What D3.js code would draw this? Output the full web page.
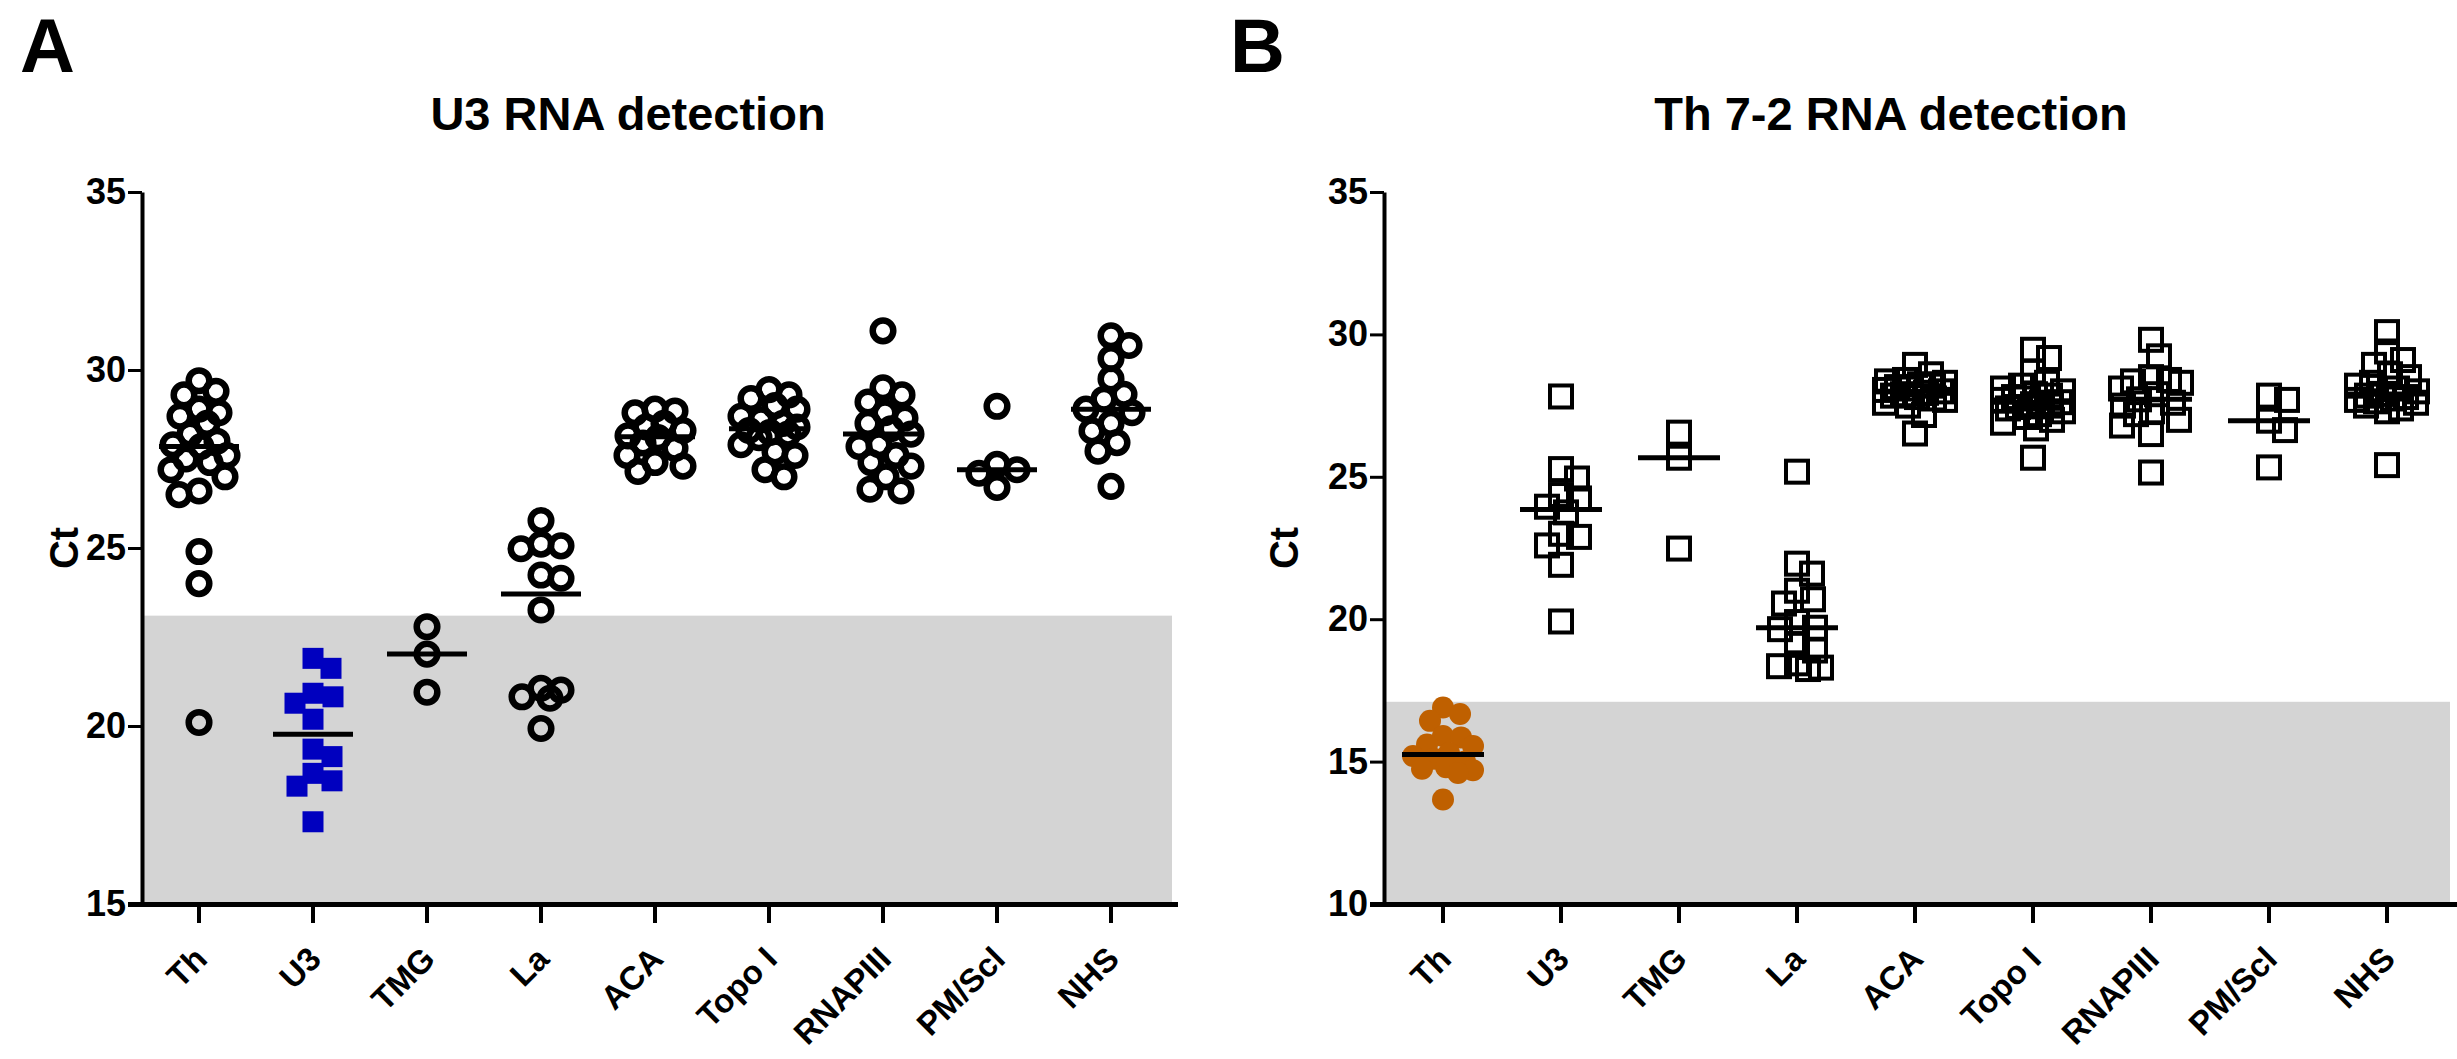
<!DOCTYPE html>
<html>
<head>
<meta charset="utf-8">
<script src="https://cdn.jsdelivr.net/npm/d3@7"></script>
<style>
    body { margin: 0; background: #fff; }
    svg { display: block; }
    text { font-family: Arial, "Liberation Sans", sans-serif; font-weight: bold; fill: #000; }
</style>
</head>
<body>
<svg id="chart" width="2457" height="1059"></svg>
<script>
// ---- data (Ct values) ----
const categories = ["Th", "U3", "TMG", "La", "ACA", "Topo I", "RNAPIII", "PM/Scl", "NHS"];

// A: U3 RNA detection
const u3Ct = [
    [29.7, 29.4, 29.3, 28.9, 28.8, 28.7, 28.5, 28.2, 28.0, 27.9, 27.85, 27.6, 27.5, 27.4, 27.2, 27.0, 26.6, 26.5, 24.9, 24.0, 20.1],
    [21.9, 21.62, 20.92, 20.82, 20.64, 20.19, 19.35, 19.14, 18.67, 18.46, 18.31, 17.31],
    [22.79, 22.02, 20.95],
    [25.77, 25.11, 25.06, 24.98, 24.24, 24.15, 23.26, 21.06, 21.01, 20.82, 20.78, 19.93],
    [28.9, 28.85, 28.8, 28.5, 28.4, 28.3, 28.15, 28.1, 27.95, 27.8, 27.6, 27.4, 27.3, 27.15],
    [29.45, 29.3, 29.2, 29.0, 28.9, 28.7, 28.6, 28.5, 28.4, 28.3, 28.25, 28.2, 28.1, 27.9, 27.7, 27.6, 27.2, 27.0],
    [31.1, 29.5, 29.3, 29.1, 28.8, 28.65, 28.5, 28.35, 28.2, 27.9, 27.85, 27.6, 27.4, 27.3, 27.0, 26.65, 26.6],
    [28.98, 27.35, 27.2, 27.1, 26.7],
    [30.96, 30.69, 30.32, 29.75, 29.32, 29.18, 28.9, 28.8, 28.5, 28.29, 27.96, 27.72, 26.73]
];

// B: Th 7-2 RNA detection
const th72Ct = [
    [16.9, 16.67, 16.43, 15.9, 15.85, 15.6, 15.55, 15.3, 15.2, 15.1, 15.0, 14.8, 14.75, 14.7, 14.6, 13.67],
    [27.82, 25.27, 24.94, 24.36, 24.24, 23.95, 23.75, 23.0, 22.89, 22.59, 21.91, 19.92],
    [26.55, 25.67, 22.48],
    [25.18, 21.95, 21.6, 21.0, 20.7, 20.55, 19.9, 19.7, 19.65, 19.1, 18.9, 18.45, 18.35, 18.3, 18.25],
    [28.93, 28.6, 28.4, 28.35, 28.3, 28.25, 28.2, 28.15, 28.1, 28.05, 28.0, 27.95, 27.9, 27.85, 27.8, 27.75, 27.7, 27.6, 27.5, 27.17, 26.52],
    [29.46, 29.17, 28.7, 28.3, 28.2, 28.1, 28.0, 27.9, 27.85, 27.8, 27.75, 27.7, 27.62, 27.6, 27.55, 27.5, 27.45, 27.4, 27.3, 27.2, 27.1, 27.0, 26.9, 26.7, 25.67],
    [29.81, 29.23, 28.5, 28.4, 28.35, 28.3, 28.1, 27.9, 27.72, 27.6, 27.5, 27.3, 27.2, 27.0, 26.8, 26.5, 25.15],
    [27.85, 27.7, 26.97, 26.64, 25.33],
    [30.08, 29.4, 29.1, 28.93, 28.6, 28.5, 28.3, 28.2, 28.1, 28.0, 27.91, 27.85, 27.8, 27.75, 27.7, 27.65, 27.6, 27.5, 27.4, 27.3, 25.41]
];

const u3Ticks = [15, 20, 25, 30, 35];
const th72Ticks = [10, 15, 20, 25, 30, 35];
const u3Cutoff = 23.1;
const th72Cutoff = 17.1;

const svg = d3.select("#chart");

// simple deterministic beeswarm: keep points near the column centre, push sideways when they collide
function swarm(values, y, minD, maxOff) {
    const placed = [];
    const offs = new Array(values.length);
    const order = values.map((v, i) => i).sort((a, b) => values[b] - values[a]);
    order.forEach(i => {
        const py = y(values[i]);
        let best = 0, bestScore = -1;
        for (let k = 0; k <= 2 * maxOff; k++) {
            const dx = (k % 2 ? 1 : -1) * Math.ceil(k / 2);
            let dmin = Infinity;
            placed.forEach(p => { dmin = Math.min(dmin, Math.hypot(p.x - dx, p.y - py)); });
            if (dmin >= minD) { best = dx; bestScore = Infinity; break; }
            if (dmin > bestScore) { bestScore = dmin; best = dx; }
        }
        offs[i] = best;
        placed.push({ x: best, y: py });
    });
    return offs;
}

function drawPanel(cfg) {
    const x = d3.scaleBand().domain(categories).range([cfg.left, cfg.right]);
    const y = d3.scaleLinear()
        .domain([cfg.ticks[0], cfg.ticks[cfg.ticks.length - 1]])
        .range([cfg.bottom, cfg.top]);

    const g = svg.append("g");

    // shaded detection-limit band
    g.append("rect")
        .attr("x", cfg.left)
        .attr("y", y(cfg.cutoff))
        .attr("width", cfg.right + 4 - cfg.left)
        .attr("height", y(cfg.ticks[0]) - y(cfg.cutoff))
        .attr("fill", "#d4d4d4");

    // points
    cfg.data.forEach((vals, gi) => {
        const cx = x(categories[gi]) + x.bandwidth() / 2;
        const style = cfg.marker(gi);
        const offs = swarm(vals, y, cfg.minD, cfg.maxOff);
        const pts = g.append("g").selectAll(".pt").data(vals).enter();

        if (style.shape === "circle") {
            pts.append("circle")
                .attr("cx", (d, i) => cx + offs[i])
                .attr("cy", d => y(d))
                .attr("r", style.size / 2)
                .attr("fill", style.fill)
                .attr("stroke", style.stroke)
                .attr("stroke-width", style.sw);
        } else {
            pts.append("rect")
                .attr("x", (d, i) => cx + offs[i] - style.size / 2)
                .attr("y", d => y(d) - style.size / 2)
                .attr("width", style.size)
                .attr("height", style.size)
                .attr("fill", style.fill)
                .attr("stroke", style.stroke)
                .attr("stroke-width", style.sw);
        }

        // median line
        const med = d3.median(vals);
        g.append("line")
            .attr("x1", cx - cfg.lineHalf)
            .attr("x2", cx + cfg.lineHalf)
            .attr("y1", y(med))
            .attr("y2", y(med))
            .attr("stroke", "#000")
            .attr("stroke-width", 5);
    });

    // y axis
    const yAxis = g.append("g")
        .attr("transform", `translate(${cfg.left},0)`)
        .call(d3.axisLeft(y).tickValues(cfg.ticks).tickSize(14).tickPadding(2).tickSizeOuter(0));
    yAxis.select(".domain").attr("stroke-width", 4);
    yAxis.selectAll(".tick line").attr("stroke-width", 3);
    yAxis.selectAll(".tick text")
        .attr("font-size", 36)
        .attr("font-family", "Arial, 'Liberation Sans', sans-serif")
        .attr("font-weight", "bold");

    // x axis
    const xAxis = g.append("g")
        .attr("transform", `translate(0,${cfg.bottom})`)
        .call(d3.axisBottom(x).tickSize(19).tickSizeOuter(0));
    xAxis.select(".domain").remove();
    xAxis.selectAll(".tick line").attr("stroke-width", 4);
    xAxis.selectAll(".tick text")
        .attr("x", 0)
        .attr("y", 0)
        .attr("dy", 0)
        .attr("transform", "translate(10,57) rotate(-45)")
        .attr("text-anchor", "end")
        .attr("font-size", 33)
        .attr("font-family", "Arial, 'Liberation Sans', sans-serif")
        .attr("font-weight", "bold");
    g.append("line")
        .attr("x1", cfg.left - 14)
        .attr("x2", cfg.axisEnd)
        .attr("y1", cfg.bottom + 0.5)
        .attr("y2", cfg.bottom + 0.5)
        .attr("stroke", "#000")
        .attr("stroke-width", 5);

    // labels
    g.append("text")
        .attr("transform", `translate(${cfg.ctX},${(cfg.top + cfg.bottom) / 2}) rotate(-90)`)
        .attr("text-anchor", "middle")
        .attr("font-size", 40)
        .text("Ct");

    g.append("text")
        .attr("x", cfg.titleX)
        .attr("y", 130)
        .attr("text-anchor", "middle")
        .attr("font-size", 47)
        .text(cfg.title);

    g.append("text")
        .attr("x", cfg.letterX)
        .attr("y", 72)
        .attr("font-size", 76)
        .text(cfg.letter);
}

drawPanel({
    left: 142, right: 1168, top: 192, bottom: 904, axisEnd: 1178,
    ticks: u3Ticks, cutoff: u3Cutoff, data: u3Ct,
    title: "U3 RNA detection", titleX: 628, letter: "A", letterX: 20, ctX: 78,
    minD: 20, maxOff: 28, lineHalf: 40,
    marker: gi => gi === 1
        ? { shape: "rect", size: 21, fill: "#0000bf", stroke: "none", sw: 0 }
        : { shape: "circle", size: 20.6, fill: "none", stroke: "#000", sw: 6.5 }
});

drawPanel({
    left: 1384, right: 2446, top: 192, bottom: 904, axisEnd: 2457,
    ticks: th72Ticks, cutoff: th72Cutoff, data: th72Ct,
    title: "Th 7-2 RNA detection", titleX: 1891, letter: "B", letterX: 1230, ctX: 1298,
    minD: 18, maxOff: 30, lineHalf: 41,
    marker: gi => gi === 0
        ? { shape: "circle", size: 22, fill: "#bf6000", stroke: "none", sw: 0 }
        : { shape: "rect", size: 22, fill: "none", stroke: "#000", sw: 4 }
});
</script>
</body>
</html>
